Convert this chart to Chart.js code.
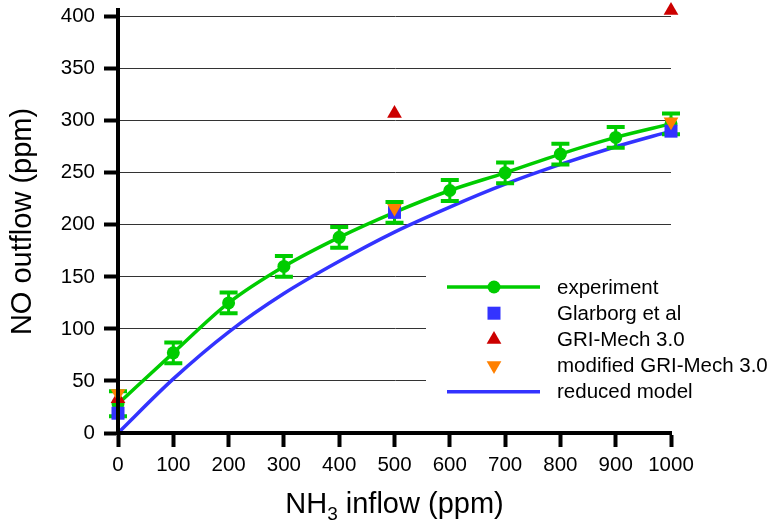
<!DOCTYPE html>
<html>
<head>
<meta charset="utf-8">
<script src="https://cdn.jsdelivr.net/npm/chart.js@4.4.0/dist/chart.umd.min.js"></script>
<style>
  html, body { margin: 0; padding: 0; background: #fff; }
</style>
</head>
<body>
<canvas id="myChart" width="778" height="527"></canvas>
<script>
// NH3 inflow (ppm) vs NO outflow (ppm)
const nh3Inflow = [0, 100, 200, 300, 400, 500, 600, 700, 800, 900, 1000];
const experiment = [28, 77, 125, 160, 188, 212, 233, 250, 268, 284, 297];
const experimentErr = [12, 10, 10, 10, 10, 10, 10, 10, 10, 10, 10];
const reducedModel = [0, 52, 97, 134, 165, 193, 217, 239, 258, 275, 290];

// mechanisms only computed at three inflows
const mechInflow = [0, 500, 1000];
const glarborg = [19, 212, 290];
const griMech = [33, 307, 406];
const modGriMech = [38, 216, 299];

const yTicks = [0, 50, 100, 150, 200, 250, 300, 350, 400];

const GREEN = '#00cc00';
const BLUE = '#3333ff';
const RED = '#cc0000';
const ORANGE = '#ff8000';
const FONT = '"Liberation Sans", Arial, Helvetica, sans-serif';

function pts(xs, ys) {
    return xs.map((x, i) => ({ x: x, y: ys[i] }));
}

const datasets = [
    {
        label: 'modified GRI-Mech 3.0',
        data: pts(mechInflow, modGriMech),
        showLine: false,
        pointStyle: 'triangle',
        rotation: 180,
        pointRadius: 8.5,
        pointBorderWidth: 0,
        pointBackgroundColor: ORANGE,
        backgroundColor: ORANGE,
        order: 0,
        clip: false
    },
    {
        label: 'GRI-Mech 3.0',
        data: pts(mechInflow, griMech),
        showLine: false,
        pointStyle: 'triangle',
        pointRadius: 8.5,
        pointBorderWidth: 0,
        pointBackgroundColor: RED,
        backgroundColor: RED,
        order: 1,
        clip: false
    },
    {
        label: 'Glarborg et al',
        data: pts(mechInflow, glarborg),
        showLine: false,
        pointStyle: 'rect',
        pointRadius: 9.2,
        pointBorderWidth: 0,
        pointBackgroundColor: BLUE,
        backgroundColor: BLUE,
        order: 2,
        clip: false
    },
    {
        label: 'experiment',
        data: pts(nh3Inflow, experiment),
        showLine: true,
        borderColor: GREEN,
        borderWidth: 3.5,
        cubicInterpolationMode: 'monotone',
        pointStyle: 'circle',
        pointRadius: 6.5,
        pointBorderWidth: 0,
        pointBackgroundColor: GREEN,
        order: 3,
        clip: false
    },
    {
        label: 'reduced model',
        data: pts(nh3Inflow, reducedModel),
        showLine: true,
        borderColor: BLUE,
        borderWidth: 3.5,
        cubicInterpolationMode: 'monotone',
        pointRadius: 0,
        order: 4,
        clip: false
    }
];

// vertical error bars with caps, drawn right after the experiment series
const errorBars = {
    id: 'errorBars',
    afterDatasetDraw(chart, args) {
        if (chart.data.datasets[args.index].label !== 'experiment') return;
        const ctx = chart.ctx;
        const xs = chart.scales.x, ys = chart.scales.y;
        ctx.save();
        ctx.strokeStyle = GREEN;
        nh3Inflow.forEach((v, i) => {
            const px = xs.getPixelForValue(v);
            const top = ys.getPixelForValue(experiment[i] + experimentErr[i]);
            const bot = ys.getPixelForValue(experiment[i] - experimentErr[i]);
            ctx.lineWidth = 3;
            ctx.beginPath();
            ctx.moveTo(px, top);
            ctx.lineTo(px, bot);
            ctx.stroke();
            ctx.lineWidth = 4;
            ctx.beginPath();
            ctx.moveTo(px - 9, top);
            ctx.lineTo(px + 9, top);
            ctx.moveTo(px - 9, bot);
            ctx.lineTo(px + 9, bot);
            ctx.stroke();
        });
        ctx.restore();
    }
};

// legend on a white box over the lower right grid
const legendBox = {
    id: 'legendBox',
    afterDatasetsDraw(chart) {
        const ctx = chart.ctx;
        const rows = ['experiment', 'Glarborg et al', 'GRI-Mech 3.0', 'modified GRI-Mech 3.0', 'reduced model'];
        ctx.save();
        ctx.fillStyle = '#fff';
        ctx.fillRect(426, 262, 352, 146);
        rows.forEach((name, i) => {
            const ds = chart.data.datasets.find(d => d.label === name);
            const y = 287 + i * 26.2;
            if (ds.showLine) {
                ctx.strokeStyle = ds.borderColor;
                ctx.lineWidth = ds.borderWidth;
                ctx.beginPath();
                ctx.moveTo(447, y);
                ctx.lineTo(540, y);
                ctx.stroke();
            }
            if (ds.pointRadius > 0) {
                ctx.fillStyle = ds.pointBackgroundColor;
                Chart.helpers.drawPoint(ctx, {
                    pointStyle: ds.pointStyle,
                    radius: ds.pointRadius,
                    rotation: ds.rotation || 0,
                    borderWidth: 0
                }, 494, y);
            }
            ctx.fillStyle = '#000';
            ctx.font = '20.5px ' + FONT;
            ctx.textBaseline = 'middle';
            ctx.textAlign = 'left';
            ctx.fillText(name, 557, y + 1);
        });
        ctx.restore();
    }
};

// x title with a subscript 3
const xTitle = {
    id: 'xTitle',
    afterDraw(chart) {
        const ctx = chart.ctx;
        const big = '29px ' + FONT, small = '19px ' + FONT;
        const parts = [['NH', big, 0], ['3', small, 7], [' inflow (ppm)', big, 0]];
        ctx.save();
        ctx.fillStyle = '#000';
        ctx.textBaseline = 'alphabetic';
        ctx.textAlign = 'left';
        let w = 0;
        parts.forEach(p => { ctx.font = p[1]; w += ctx.measureText(p[0]).width; });
        let x = (chart.chartArea.left + chart.chartArea.right) / 2 - w / 2;
        parts.forEach(p => {
            ctx.font = p[1];
            ctx.fillText(p[0], x, 513 + p[2]);
            x += ctx.measureText(p[0]).width;
        });
        ctx.restore();
    }
};

const graph = document.querySelector('#myChart');
const graf = new Chart(graph, {
    type: 'scatter',
    data: { datasets: datasets },
    options: {
        responsive: false,
        devicePixelRatio: 1,
        animation: false,
        layout: { padding: { left: 0, right: 107, top: 10, bottom: 0 } },
        plugins: {
            legend: { display: false },
            tooltip: { enabled: false }
        },
        scales: {
            x: {
                type: 'linear',
                min: 0,
                max: 1000,
                afterFit(scale) {
                    scale.height = 94;
                    scale.paddingLeft = 0;
                    scale.paddingRight = 0;
                },
                ticks: {
                    stepSize: 100,
                    color: '#000',
                    font: { family: FONT, size: 20.5 },
                    padding: 6,
                    maxRotation: 0,
                    callback: v => String(v)
                },
                grid: {
                    drawOnChartArea: false,
                    tickLength: 14,
                    tickWidth: 4,
                    tickColor: '#000'
                },
                border: { color: '#000', width: 4, z: 1 }
            },
            y: {
                type: 'linear',
                min: 0,
                max: 406.4,
                afterFit(scale) {
                    scale.width = 118;
                    scale.paddingTop = 0;
                    scale.paddingBottom = 0;
                },
                afterBuildTicks(scale) { scale.ticks = yTicks.map(v => ({ value: v })); },
                ticks: {
                    color: '#000',
                    font: { family: FONT, size: 20.5 },
                    padding: 9
                },
                grid: {
                    color: '#333',
                    lineWidth: 1,
                    tickLength: 14,
                    tickWidth: 4,
                    tickColor: '#000'
                },
                border: { color: '#000', width: 4, z: 1 },
                title: {
                    display: true,
                    text: 'NO outflow (ppm)',
                    color: '#000',
                    font: { family: FONT, size: 29 },
                    padding: { top: 6, bottom: 0 }
                }
            }
        }
    },
    plugins: [errorBars, legendBox, xTitle]
});
</script>
</body>
</html>
